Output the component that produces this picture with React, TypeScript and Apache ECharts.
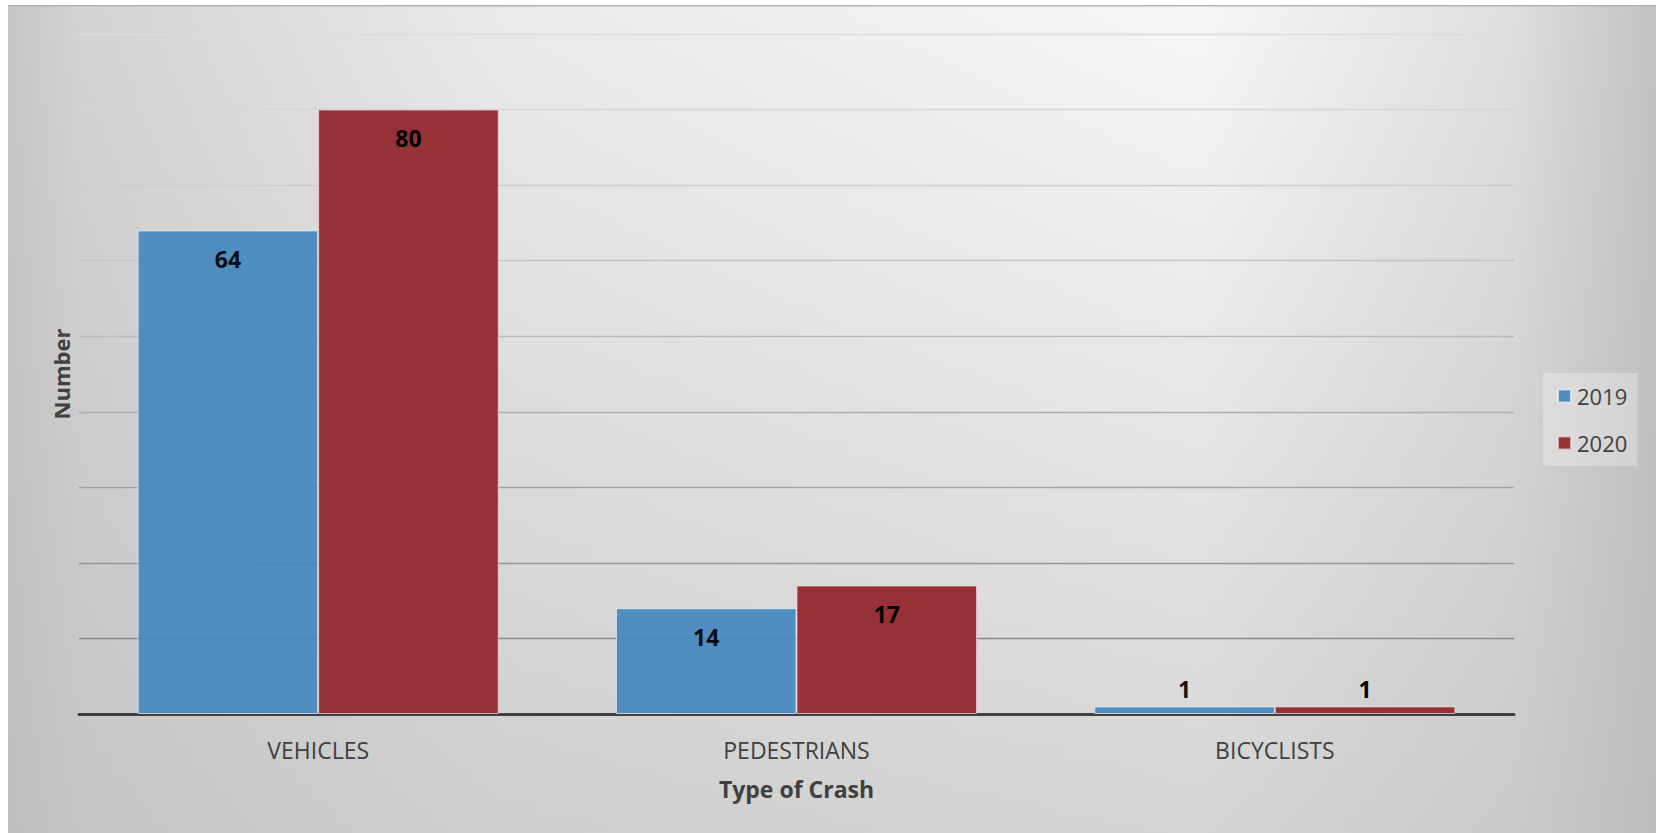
import React, { useEffect, useRef } from "react";
import * as echarts from "echarts";

const categories = ["VEHICLES", "PEDESTRIANS", "BICYCLISTS"];
const values2019 = [64, 14, 1];
const values2020 = [80, 17, 1];
const seriesNames = ["2019", "2020"];
const yMin = 0;
const yMax = 90;
const yInterval = 10;

const FONT = "'Open Sans', 'Noto Sans', sans-serif";

function labelled(values: number[]) {
  return values.map((v) => ({
    value: v,
    label: v < 5 ? { position: "top", distance: 6 } : { position: "insideTop", distance: 17 },
  }));
}

export default function App() {
  const ref = useRef<HTMLDivElement>(null);
  useEffect(() => {
    if (!ref.current) return;
    const chart = echarts.init(ref.current, undefined, { renderer: "svg" });
    const labelStyle = {
      show: true,
      fontFamily: FONT,
      fontWeight: "bold",
      fontSize: 23,
      color: "#000",
    };
    chart.setOption({
      animation: false,
      backgroundColor: "transparent",
      graphic: [
        {
          type: "line",
          shape: { x1: 0, y1: 0.5, x2: 1648, y2: 0.5 },
          style: { stroke: "#b4b4b4", lineWidth: 2 },
        },
      ],
      grid: { left: 71, right: 142, top: 29, bottom: 119, containLabel: false },
      legend: {
        orient: "vertical",
        left: 1535,
        top: 368,
        data: seriesNames,
        icon: "rect",
        itemWidth: 13,
        itemHeight: 13,
        itemGap: 25,
        padding: [12, 10, 12, 14],
        backgroundColor: "rgba(255,255,255,0.28)",
        textStyle: { fontFamily: FONT, fontSize: 22, color: "#404040", padding: [0, 0, 0, 1] },
      },
      xAxis: {
        type: "category",
        data: categories,
        name: "Type of Crash",
        nameLocation: "middle",
        nameGap: 63,
        nameTextStyle: { fontFamily: FONT, fontWeight: "bold", fontSize: 23, color: "#404040" },
        axisLine: { show: true, lineStyle: { color: "#404040", width: 3 } },
        axisTick: { show: false },
        axisLabel: { fontFamily: FONT, fontSize: 23, color: "#404040", margin: 24 },
        splitLine: { show: false },
      },
      yAxis: {
        type: "value",
        min: yMin,
        max: yMax,
        interval: yInterval,
        name: "Number",
        nameLocation: "middle",
        nameGap: 7,
        nameTextStyle: { fontFamily: FONT, fontWeight: "bold", fontSize: 22, color: "#404040" },
        axisLine: { show: false },
        axisTick: { show: false },
        axisLabel: { show: false },
        splitLine: {
          show: true,
          lineStyle: {
            width: 1.3,
            color: [
              "#404040",
              "#8a8a8a",
              "#979797",
              "#a3a3a3",
              "#afafaf",
              "#bababa",
              "#c4c4c4",
              "#cdcdcd",
              "#d5d5d5",
              "#dcdcdc",
            ],
          },
        },
      },
      series: [
        {
          name: seriesNames[0],
          type: "bar",
          data: labelled(values2019),
          barGap: "0%",
          barCategoryGap: "24.5%",
          itemStyle: {
            color: "#4487bf",
            opacity: 0.92,
            borderColor: "rgba(235,240,248,0.8)",
            borderWidth: 1,
          },
          label: labelStyle,
        },
        {
          name: seriesNames[1],
          type: "bar",
          data: labelled(values2020),
          barGap: "0%",
          barCategoryGap: "24.5%",
          itemStyle: {
            color: "#963236",
            borderColor: "rgba(240,220,220,0.7)",
            borderWidth: 1,
          },
          label: labelStyle,
        },
      ],
    });
    return () => chart.dispose();
  }, []);

  return (
    <div
      style={{
        position: "fixed",
        left: 8,
        top: 5,
        width: 1648,
        height: 828,
        background:
          "linear-gradient(to bottom, rgba(185,185,185,0) 0%, rgba(185,185,185,0.55) 100%), " +
          "linear-gradient(to right, #c6c6c6 0px, #d3d3d3 72px, #e9e9e9 492px, #f6f6f6 1192px, #dedede 1506px, #c2c2c2 1648px)",
      }}
    >
      <div ref={ref} style={{ width: 1648, height: 828 }} />
    </div>
  );
}
